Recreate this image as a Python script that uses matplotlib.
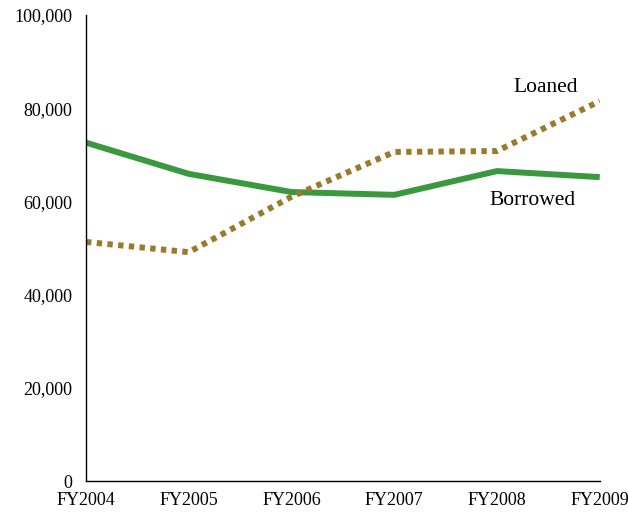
import matplotlib
matplotlib.use('Agg')
import matplotlib.pyplot as plt
from matplotlib.ticker import FuncFormatter

# dati
anni = ['FY2004', 'FY2005', 'FY2006', 'FY2007', 'FY2008', 'FY2009']
borrowed = [72600, 65900, 62000, 61400, 66500, 65200]
loaned = [51300, 49100, 61000, 70600, 70800, 81500]

plt.rcParams['font.family'] = ['Liberation Serif', 'DejaVu Serif']

fig = plt.figure(figsize=(6.28, 5.15), dpi=100)
ax = fig.add_axes([0.137, 0.066, 0.818, 0.905])

x = range(len(anni))
ax.plot(x, borrowed, color='#3a983f', linewidth=4.3, solid_capstyle='butt')
ax.plot(x, loaned, color='#9b7b2b', linewidth=4.3, linestyle=(0, (0.9, 0.9)),
        dash_capstyle='butt')

# etichette delle serie
ax.text(4.47, 84500, 'Loaned', fontsize=15.5, ha='center', va='center')
ax.text(4.35, 60100, 'Borrowed', fontsize=15.5, ha='center', va='center')

ax.set_xlim(0, 5)
ax.set_ylim(0, 100000)
ax.set_yticks(range(0, 100001, 20000))
ax.yaxis.set_major_formatter(FuncFormatter(lambda v, p: f'{int(v):,}'))
ax.set_xticks(list(x))
ax.set_xticklabels(anni)
ax.tick_params(axis='both', length=0, labelsize=13)
ax.tick_params(axis='x', pad=8)
ax.tick_params(axis='y', pad=10)

ax.spines['top'].set_visible(False)
ax.spines['right'].set_visible(False)
for s in ['left', 'bottom']:
    ax.spines[s].set_linewidth(1.0)

fig.savefig('out.png', dpi=100)
